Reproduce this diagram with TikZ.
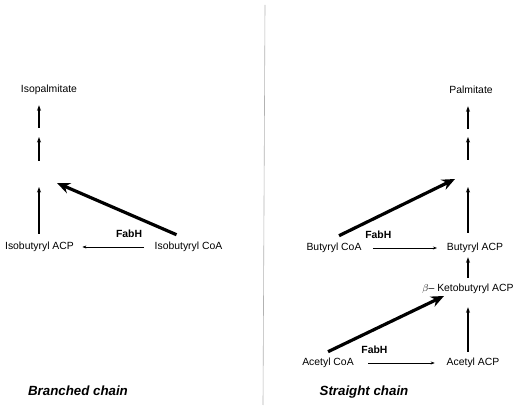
\documentclass[tikz,border=0pt]{standalone}
\usepackage{fontspec}
\setmainfont{Liberation Sans}
\usetikzlibrary{arrows.meta,positioning}
\begin{document}
\begin{tikzpicture}[x=1pt,y=1pt,font=\fontsize{10.4}{12}\selectfont,
	every node/.style={text height=7.5pt,text depth=2pt},
	enzyme/.style={font=\fontsize{10.4}{12}\selectfont\bfseries},
	pathway/.style={font=\fontsize{13.3}{16}\selectfont\bfseries\itshape},
	thin arrow/.style={-{Stealth[length=4pt,width=3pt]},line width=0.5pt},
	elong/.style={-{Stealth[length=5.5pt,width=4pt]},line width=1.1pt},
	fabh arrow/.style={-{Stealth[length=13pt,width=11pt]},line width=3.2pt}]
	\useasboundingbox (0,0) rectangle (522,412);
	\draw[gray!60,line width=0.6pt] (265,407) -- (263,7);
	\node (isoacp) at (39.5,165) {Isobutyryl ACP};
	\node (isocoa) [right of=isoacp, node distance=149pt] {Isobutyryl CoA};
	\node (isopalm) at (49,322) {Isopalmitate};
	\node (acacp) at (473,49) {Acetyl ACP};
	\node (accoa) [left of=acacp, node distance=145pt] {Acetyl CoA};
	\node (keto) at (468,123) {$\beta$-- Ketobutyryl ACP};
	\node (buacp) at (475,164) {Butyryl ACP};
	\node (bucoa) [left of=buacp, node distance=141pt] {Butyryl CoA};
	\node (palm) at (471,321) {Palmitate};
	\node[pathway] (branched) at (78,19) {Branched chain};
	\node[pathway] (straight) at (364,19) {Straight chain};
	\coordinate (l1) at (39,225);
	\coordinate (l2) at (39,251);
	\coordinate (l3) at (39,275);
	\coordinate (l4) at (39,284);
	\coordinate (r1) at (468,225);
	\coordinate (r2) at (468,252);
	\coordinate (r3) at (468,275);
	\coordinate (r4) at (468,283);
	\coordinate (lt) at (57,229);
	\coordinate (rt) at (455,233);
	\coordinate (kt) at (444,116);
	\draw[thin arrow,shorten <=7pt,shorten >=5pt] (isocoa) -- node[enzyme,above=4pt,pos=0.3] (fabhiso) {FabH} (isoacp);
	\draw[thin arrow,shorten <=8pt,shorten >=6.5pt] (bucoa) -- node[enzyme,above=4pt,pos=0.17] (fabhbu) {FabH} (buacp);
	\draw[thin arrow,shorten <=11pt,shorten >=8.5pt] (accoa) -- node[enzyme,above=4pt,pos=0.2] (fabhac) {FabH} (acacp);
	\draw[elong,shorten <=5pt] (isoacp.north -| l1) -- (l1);
	\draw[elong] (l2) -- (l3);
	\draw[elong,shorten >=7pt] (l4) -- (isopalm.south -| l4);
	\draw[elong,shorten <=3pt,shorten >=10pt] (acacp.north -| r1) -- (keto.south -| r1);
	\draw[elong,shorten <=3pt,shorten >=1pt] (keto.north -| r1) -- (buacp.south -| r1);
	\draw[elong,shorten <=7pt] (buacp.north -| r1) -- (r1);
	\draw[elong] (r2) -- (r3);
	\draw[elong,shorten >=7pt] (r4) -- (palm.south -| r4);
	\draw[fabh arrow] ([xshift=-12pt,yshift=4pt]isocoa.north) -- (lt);
	\draw[fabh arrow] ([xshift=5pt,yshift=4pt]bucoa.north) -- (rt);
	\draw[fabh arrow] ([yshift=3pt]accoa.north) -- (kt);
\end{tikzpicture}
\end{document}
